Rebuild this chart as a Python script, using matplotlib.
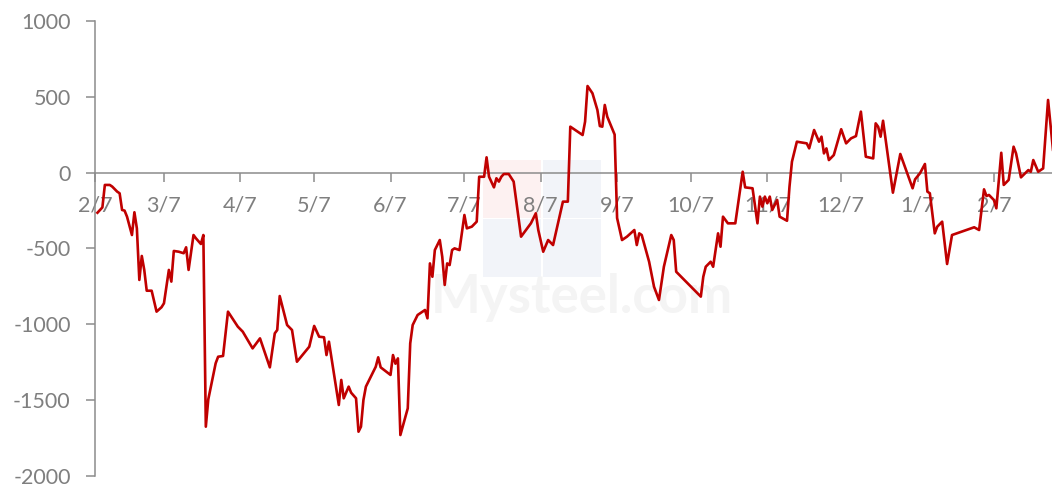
import datetime as dt
import matplotlib
matplotlib.use("Agg")
import matplotlib.pyplot as plt
from matplotlib.patches import Rectangle

plt.rcParams['font.family'] = ['Lato', 'Noto Sans CJK SC', 'DejaVu Sans']
plt.rcParams['axes.unicode_minus'] = False

start_date = "2023-02-07"
day_offset = [1, 3, 4, 6, 7, 9, 10, 11, 12, 13, 15, 16, 17, 18, 19, 20, 21, 23, 25, 27,
              28, 30, 31, 32, 34, 36, 37, 38, 40, 41, 43, 44, 45, 46, 49, 50, 52, 54, 58, 60,
              64, 67, 71, 73, 74, 75, 78, 80, 82, 87, 89, 91, 93, 94, 95, 99, 100, 101, 103, 104,
              106, 107, 108, 109, 110, 114, 115, 116, 120, 121, 122, 123, 124, 127, 128, 129, 131, 132, 134, 135,
              136, 137, 138, 139, 140, 141, 142, 143, 144, 145, 146, 148, 150, 151, 153, 155, 156, 158, 159, 160,
              162, 163, 164, 165, 166, 168, 170, 173, 175, 177, 179, 180, 182, 184, 186, 188, 190, 192, 193, 198,
              199, 200, 202, 204, 205, 206, 207, 208, 211, 212, 214, 216, 219, 220, 221, 222, 225, 227, 229, 231,
              234, 235, 236, 246, 247, 248, 250, 251, 253, 254, 255, 257, 258, 260, 263, 264, 267, 269, 270, 271,
              272, 273, 274, 275, 277, 278, 281, 282, 283, 285, 289, 290, 292, 294, 295, 296, 297, 298, 300, 303,
              305, 307, 309, 311, 313, 316, 317, 318, 319, 320, 324, 327, 332, 333, 335, 337, 338, 339, 341, 342,
              344, 346, 348, 357, 359, 361, 362, 363, 365, 366, 368, 369, 371, 373, 374, 376, 379, 380, 381, 383,
              385, 387, 389]
values = [-265, -230, -82, -82, -93, -126, -137, -247, -251, -291, -412, -262, -368, -708, -550, -642, -779, -779, -917, -888,
          -862, -642, -719, -517, -522, -532, -493, -642, -412, -434, -471, -412, -1675, -1495, -1257, -1214, -1209, -917, -1016, -1049,
          -1159, -1093, -1284, -1060, -1038, -814, -1005, -1038, -1247, -1148, -1011, -1082, -1086, -1203, -1115, -1532, -1367, -1488, -1411, -1451,
          -1488, -1708, -1675, -1499, -1411, -1280, -1218, -1284, -1334, -1203, -1260, -1225, -1730, -1554, -1126, -1005, -939, -928, -906, -961,
          -599, -687, -511, -478, -445, -555, -741, -599, -610, -511, -500, -511, -280, -368, -357, -324, -28, -28, 100, -28,
          -98, -38, -60, -28, -10, -10, -60, -423, -379, -335, -269, -379, -522, -445, -478, -335, -192, -192, 302, 247,
          335, 570, 522, 412, 306, 302, 445, 368, 250, -300, -445, -423, -379, -478, -401, -412, -588, -753, -840, -621,
          -412, -445, -654, -818, -687, -621, -588, -621, -401, -489, -291, -335, -335, -335, 5, -98, -104, -335, -159, -225,
          -159, -203, -159, -247, -181, -291, -318, -94, 71, 203, 192, 159, 280, 203, 236, 126, 159, 82, 115, 285,
          192, 225, 240, 401, 104, 93, 324, 302, 236, 341, -133, 122, -104, -45, -5, 56, -126, -137, -401, -357,
          -324, -603, -412, -361, -379, -111, -155, -148, -181, -236, 130, -82, -49, 170, 126, -32, 16, 5, 82, 5,
          27, 478, 150]
tick_labels = ["2/7", "3/7", "4/7", "5/7", "6/7", "7/7", "8/7", "9/7", "10/7", "11/7", "12/7", "1/7", "2/7"]
y_ticks = [-2000, -1500, -1000, -500, 0, 500, 1000]

t0 = dt.datetime.strptime(start_date, "%Y-%m-%d")
dates = [t0 + dt.timedelta(days=d) for d in day_offset]
tick_dates = []
y, m = t0.year, t0.month
for _ in tick_labels:
    tick_dates.append(dt.datetime(y, m, 7))
    m += 1
    if m > 12:
        m = 1
        y += 1

W, H = 1052, 487
fig = plt.figure(figsize=(W / 100, H / 100), dpi=100)
ax_l, ax_r, ax_t, ax_b = 95, 1052, 20.75, 476
ax = fig.add_axes([ax_l / W, (H - ax_b) / H, (ax_r - ax_l) / W, (ax_b - ax_t) / H])

gray = '#8c8c8c'
label_gray = '#7f7f7f'

# very faint watermark (logo blocks + site name)
def axfrac(px, py):
    return ((px - ax_l) / (ax_r - ax_l), (ax_b - py) / (ax_b - ax_t))
logo_cells = [((483, 160), '#fdf1f1'), ((543, 160), '#f2f4f9'),
              ((483, 219), '#f2f4f9'), ((543, 219), '#f2f4f9')]
for (px, py), col in logo_cells:
    x0, y1 = axfrac(px, py)
    x1, y0 = axfrac(px + 58, py + 58)
    ax.add_patch(Rectangle((x0, y0), x1 - x0, y1 - y0, transform=ax.transAxes,
                           facecolor=col, edgecolor='none', zorder=0))
cx, cy = axfrac(582, 297)
ax.text(cx, cy, 'Mysteel.com', transform=ax.transAxes, ha='center', va='center',
        fontsize=38, fontweight='bold', color='#f4f4f4', zorder=0.6)

ax.plot(dates, values, color='#C00000', linewidth=1.9, zorder=3)

ax.set_ylim(-2000, 1000)
ax.set_xlim(t0, t0 + dt.timedelta(days=388.6))
ax.set_yticks(y_ticks)
ax.set_yticklabels([str(v) for v in y_ticks])
ax.set_xticks(tick_dates)
ax.set_xticklabels(tick_labels)

for s in ['top', 'right']:
    ax.spines[s].set_visible(False)
ax.spines['bottom'].set_position(('data', 0))
for s in ['left', 'bottom']:
    ax.spines[s].set_color(gray)
    ax.spines[s].set_linewidth(1.1)
    ax.spines[s].set_zorder(2)
ax.tick_params(axis='y', direction='out', length=6.5, width=1.1, color=gray,
               labelcolor=label_gray, labelsize=15.5, pad=11)
ax.tick_params(axis='x', direction='out', length=6.5, width=1.1, color=gray,
               labelcolor=label_gray, labelsize=15.5, pad=10)
ax.patch.set_alpha(0)

fig.savefig('out.png', dpi=100)
